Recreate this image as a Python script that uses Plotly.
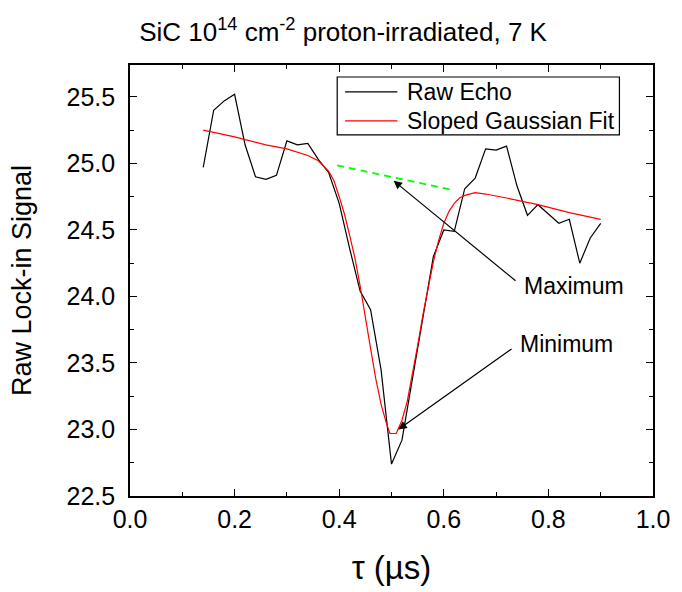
import plotly.graph_objects as go

# Raw spin-echo lock-in signal vs. pulse separation tau (us)
tau = [0.14, 0.16, 0.18, 0.20, 0.22, 0.24, 0.26, 0.28, 0.30, 0.32,
       0.34, 0.36, 0.38, 0.40, 0.42, 0.44, 0.46, 0.48, 0.50, 0.52,
       0.54, 0.56, 0.58, 0.60, 0.62, 0.64, 0.66, 0.68, 0.70, 0.72,
       0.74, 0.76, 0.78, 0.80, 0.82, 0.84, 0.86, 0.88, 0.90]
raw_echo = [24.97, 25.40, 25.47, 25.52, 25.14, 24.90, 24.88, 24.91, 25.17, 25.14,
            25.15, 25.03, 24.93, 24.70, 24.36, 24.04, 23.90, 23.45, 22.74, 22.92,
            23.38, 23.84, 24.30, 24.50, 24.49, 24.81, 24.89, 25.11, 25.10, 25.13,
            24.83, 24.61, 24.69, 24.62, 24.55, 24.58, 24.25, 24.44, 24.55]

# Sloped Gaussian fit curve
fit_tau = [0.14, 0.20, 0.26, 0.30, 0.34, 0.36, 0.38, 0.39, 0.40, 0.41,
           0.42, 0.43, 0.44, 0.45, 0.46, 0.47, 0.48, 0.49, 0.497, 0.509,
           0.52, 0.53, 0.54, 0.55, 0.56, 0.57, 0.58, 0.59, 0.60, 0.61,
           0.62, 0.63, 0.64, 0.66, 0.68, 0.72, 0.78, 0.84, 0.90]
fit_signal = [25.25, 25.20, 25.14, 25.11, 25.06, 25.02, 24.94, 24.87, 24.75, 24.62,
              24.46, 24.29, 24.08, 23.86, 23.61, 23.38, 23.19, 23.05, 22.97, 22.97,
              23.07, 23.21, 23.41, 23.63, 23.86, 24.07, 24.26, 24.42, 24.55, 24.64,
              24.70, 24.74, 24.76, 24.78, 24.77, 24.74, 24.69, 24.63, 24.58]

# Baseline segment under the echo (dashed)
base_tau = [0.396, 0.618]
base_signal = [24.985, 24.80]

FONT = "Liberation Sans, Arial, sans-serif"
BLACK = "black"
RED = "#ff0000"

fig = go.Figure()
fig.add_trace(go.Scatter(x=tau, y=raw_echo, mode="lines", name="Raw Echo",
                         line=dict(color=BLACK, width=1.2)))
fig.add_trace(go.Scatter(x=fit_tau, y=fit_signal, mode="lines", name="Sloped Gaussian Fit",
                         line=dict(color=RED, width=1.2)))
fig.add_trace(go.Scatter(x=base_tau, y=base_signal, mode="lines", name="baseline",
                         line=dict(color="#00ff00", width=1.8, dash="7px,5px")))

axis_common = dict(
    showline=True, linecolor=BLACK, linewidth=1.6, mirror="allticks",
    ticks="inside", ticklen=7, tickwidth=1.2, tickcolor=BLACK,
    showgrid=False, zeroline=False,
    tickfont=dict(family=FONT, size=25, color=BLACK),
)

fig.update_xaxes(range=[0, 1], dtick=0.2, tickformat=".1f",
                 minor=dict(ticks="inside", ticklen=4, dtick=0.1, tickcolor=BLACK, tickwidth=1.2),
                 title=dict(text="τ (µs)", font=dict(family=FONT, size=33, color=BLACK), standoff=24),
                 **axis_common)
fig.update_yaxes(range=[22.5, 25.74], tick0=22.5, dtick=0.5, tickformat=".1f",
                 minor=dict(ticks="inside", ticklen=4, dtick=0.25, tickcolor=BLACK, tickwidth=1.2),
                 ticklabelstandoff=8,
                 title=dict(text="Raw Lock-in Signal", font=dict(family=FONT, size=27, color=BLACK), standoff=27),
                 **axis_common)

# Labelled arrows pointing at the echo maximum (baseline) and minimum (dip);
# the arrow tail sits just left of each label
arrow = dict(showarrow=True, arrowhead=2, arrowsize=1.4, arrowwidth=1.2, arrowcolor=BLACK,
             axref="x", ayref="y", xanchor="left", yanchor="middle", startstandoff=8,
             font=dict(family=FONT, size=23, color=BLACK))
fig.add_annotation(x=0.504, y=24.87, ax=0.749, ay=24.08, text="Maximum", **arrow)
fig.add_annotation(x=0.513, y=23.00, ax=0.742, ay=23.64, text="Minimum", **arrow)

# Boxed legend in the upper right of the plot area
legend_items = [("Raw Echo", BLACK, 0.9375), ("Sloped Gaussian Fit", RED, 0.8704)]
fig.add_shape(type="rect", xref="paper", yref="paper", x0=0.3962, x1=0.9358, y0=0.838, y1=0.9722,
              line=dict(color=BLACK, width=1.2), fillcolor="white", layer="above")
for label, color, ly in legend_items:
    fig.add_shape(type="line", xref="paper", yref="paper", x0=0.4113, x1=0.5113, y0=ly, y1=ly,
                  line=dict(color=color, width=1.2), layer="above")
    fig.add_annotation(xref="paper", yref="paper", x=0.5264, y=ly, text=label, showarrow=False,
                       xanchor="left", yanchor="middle",
                       font=dict(family=FONT, size=23, color=BLACK))

fig.update_layout(
    width=682, height=592,
    margin=dict(l=130, r=22, t=65, b=95),
    paper_bgcolor="white", plot_bgcolor="white",
    title=dict(text="SiC 10<sup>14</sup> cm<sup>-2</sup> proton-irradiated, 7 K",
               x=0.503, xref="container", xanchor="center",
               y=1 - 32 / 592, yref="container", yanchor="middle",
               font=dict(family=FONT, size=26, color=BLACK)),
    showlegend=False,
)

fig.write_html("out.html")
